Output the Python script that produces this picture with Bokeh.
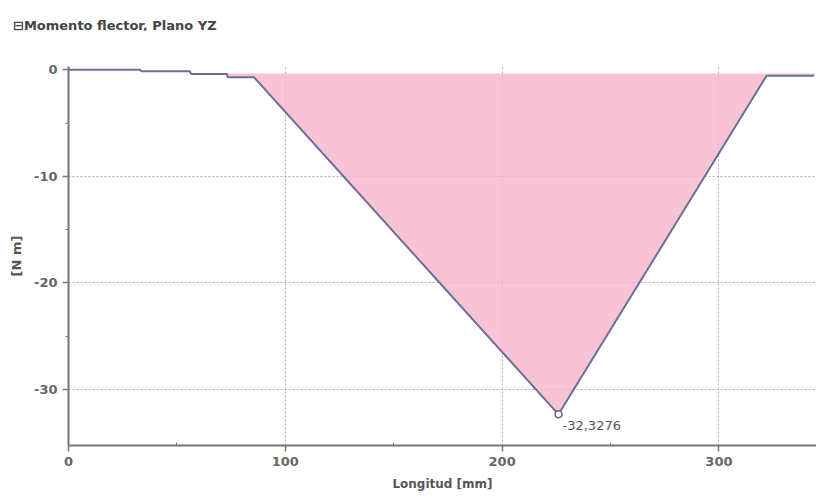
from bokeh.plotting import figure
from bokeh.models import FixedTicker, Range1d, Div, CustomJSTickFormatter
from bokeh.layouts import column
from bokeh.core.properties import value
from bokeh.embed import file_html
from bokeh.resources import INLINE
import numpy as np

# data
longitud = [0, 33, 33.5, 56, 56.5, 73, 73.5, 85.5, 226, 322, 344]
momento = [0, 0, -0.15, -0.15, -0.4, -0.4, -0.7, -0.7, -32.3276, -0.56, -0.56]
base = -0.35
min_x = [226]
min_y = [-32.3276]
min_label = ["-32,3276"]
x_ticks = [0, 100, 200, 300]
x_minor = [50, 150, 250]
y_ticks = [0, -10, -20, -30]
y_minor = [-5, -15, -25]
title_text = "\u229fMomento flector, Plano YZ"

FW, FH = 748, 379
p = figure(frame_width=FW, frame_height=FH, output_backend="svg", toolbar_location=None,
           x_range=Range1d(0, 345), y_range=Range1d(-35.25, 0.3),
           min_border_left=68, min_border_right=0, min_border_top=36, min_border_bottom=51)
p.outline_line_color = None
p.background_fill_color = "white"

title = Div(text=title_text, width=816, height=30, margin=(0, 0, 0, 0),
            styles={"font-family": "DejaVu Sans", "font-weight": "bold", "font-size": "13px",
                    "color": "#444444", "padding-left": "13px", "padding-top": "18px",
                    "line-height": "16px", "box-sizing": "border-box"})

y1 = np.minimum(np.array(momento), base)
p.varea(x=longitud, y1=y1, y2=[base] * len(longitud), fill_color="#f8b4cc", fill_alpha=0.8)
p.line(longitud, momento, line_color="#6a6e99", line_width=2)
p.scatter(min_x, min_y, marker="circle", size=7, fill_color="white", line_color="#666666", line_width=1.5)
p.text(x=min_x, y=min_y, text=min_label, x_offset=4, y_offset=7, text_baseline="top",
       text_font=value("DejaVu Sans"), text_font_size="13px", text_color="#555555")

fmt = CustomJSTickFormatter(code="return tick.toString();")
for ax in (p.xaxis[0], p.yaxis[0]):
    ax.formatter = fmt
    ax.axis_line_color = "#777777"
    ax.axis_line_width = 2
    ax.major_tick_line_color = "#777777"
    ax.major_tick_line_width = 1.5
    ax.minor_tick_line_color = "#777777"
    ax.major_label_text_font = "DejaVu Sans"
    ax.major_label_text_font_style = "bold"
    ax.major_label_text_font_size = "13px"
    ax.major_label_text_color = "#666666"
    ax.axis_label_text_font = "DejaVu Sans"
    ax.axis_label_text_font_style = "bold"
    ax.axis_label_text_font_size = "12px"
    ax.axis_label_text_color = "#555555"

p.xaxis.ticker = FixedTicker(ticks=x_ticks, minor_ticks=x_minor)
p.yaxis.ticker = FixedTicker(ticks=y_ticks, minor_ticks=y_minor)
p.xaxis.axis_label = "Longitud [mm]"
p.yaxis.axis_label = "[N m]"
p.yaxis.axis_label_text_font_size = "13px"
p.xaxis.major_tick_out = 6
p.xaxis.major_tick_in = 0
p.xaxis.minor_tick_in = 3
p.xaxis.minor_tick_out = 0
p.yaxis.major_tick_out = 6
p.yaxis.major_tick_in = 0
p.yaxis.minor_tick_out = 3
p.yaxis.minor_tick_in = 0
p.yaxis.axis_label_standoff = 7
p.xaxis.axis_label_standoff = 8

p.xgrid.ticker = FixedTicker(ticks=[100, 200, 300])
p.ygrid.ticker = FixedTicker(ticks=[-10, -20, -30])
for g in (p.xgrid[0], p.ygrid[0]):
    g.grid_line_color = "#b0b0b0"
    g.grid_line_dash = "2 2"
    g.grid_line_width = 1

layout = column(title, p, spacing=0)
open("out.html", "w").write(file_html(layout, INLINE))
